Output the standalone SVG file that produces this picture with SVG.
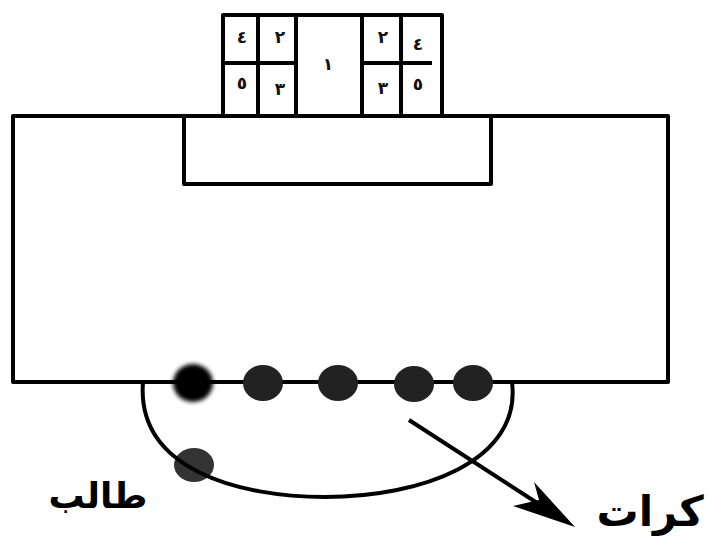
<svg xmlns="http://www.w3.org/2000/svg" width="707" height="536" viewBox="0 0 707 536">
  <defs>
    <style>
      .ln { fill: none; stroke: #000; stroke-width: 4; stroke-linejoin: round; }
      .digit { font-family: "DejaVu Sans", "Noto Sans", sans-serif; font-size: 17px; font-weight: bold; fill: #111; text-anchor: middle; }
      .label { font-family: "DejaVu Sans", "Noto Sans", sans-serif; font-weight: bold; fill: #000; text-anchor: middle; }
      .ball { fill: #222; }
    </style>
    <filter id="soft" x="-50%" y="-50%" width="200%" height="200%">
      <feGaussianBlur stdDeviation="2.2"/>
    </filter>
  </defs>

  <rect width="707" height="536" fill="#fff"/>

  <!-- field -->
  <g id="field">
    <rect class="ln" x="13" y="116" width="655" height="266"/>
    <rect class="ln" x="184" y="116" width="307" height="68"/>
  </g>

  <!-- goal grid with numbered cells -->
  <g id="goal">
    <path class="ln" d="M223,116 V15 H442 V116"/>
    <path class="ln" d="M258,15 V116 M296,15 V116 M362,15 V116 M401,15 V116"/>
    <path class="ln" d="M223,63 H296 M362,63 H432"/>
    <text class="digit" x="242" y="43">٤</text>
    <text class="digit" x="280" y="43">٢</text>
    <text class="digit" x="242" y="89">٥</text>
    <text class="digit" x="280" y="95">٣</text>
    <text class="digit" x="328" y="70">١</text>
    <text class="digit" x="383" y="43">٢</text>
    <text class="digit" x="418" y="50">٤</text>
    <text class="digit" x="383" y="94">٣</text>
    <text class="digit" x="418" y="90">٥</text>
  </g>

  <!-- balls on the line -->
  <g id="balls">
    <ellipse cx="193" cy="383" rx="20" ry="19" fill="#000" filter="url(#soft)"/>
    <ellipse class="ball" cx="263" cy="383" rx="20" ry="18" fill="#141414"/>
    <ellipse class="ball" cx="338" cy="383" rx="20" ry="18"/>
    <ellipse class="ball" cx="414" cy="384" rx="20" ry="18"/>
    <ellipse class="ball" cx="473" cy="383" rx="20" ry="18" fill="#2a2a2a"/>
  </g>

  <!-- student -->
  <g id="student">
    <ellipse cx="194" cy="465" rx="20" ry="17" fill="#333"/>
    <text class="label" x="98" y="508" font-size="36">طالب</text>
  </g>

  <!-- connectors -->
  <g id="connectors">
    <path class="ln" d="M143,382 C136,470 240,497 325,497 C420,497 522,462 512,382" stroke-width="3.5"/>
    <path class="ln" d="M409,420 L545,508"/>
    <polygon points="575,527 534,482 539,500 513,506" fill="#000"/>
  </g>

  <g id="balls-label">
    <text class="label" x="650" y="526" font-size="42">كرات</text>
  </g>
</svg>
